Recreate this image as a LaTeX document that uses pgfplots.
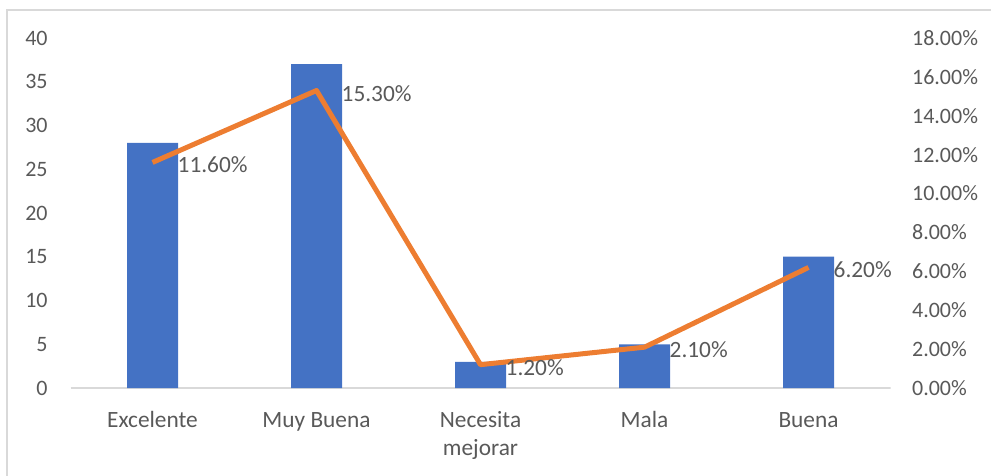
\documentclass[border=0pt]{standalone}
\usepackage{fontspec}
\setmainfont{Carlito}
\usepackage{pgfplots}
\pgfplotsset{compat=1.18}
\definecolor{barblue}{HTML}{4472C4}
\definecolor{lineorange}{HTML}{ED7D31}
\definecolor{txtgray}{HTML}{595959}
\definecolor{framegray}{HTML}{D9D9D9}

\begin{document}
\begin{tikzpicture}[x=0.75pt,y=0.75pt]
\useasboundingbox (0,0) rectangle (991,475);
\clip (0,0) rectangle (991,475);
% marco del grafico
\draw[framegray, line width=1.5pt] (7,-20) rectangle (1010,465);

\pgfplotsset{
  base/.style={
    at={(52.875pt,65.25pt)}, anchor=south west,
    scale only axis, width=615pt, height=262.5pt,
    xmin=-0.5, xmax=4.5,
    axis line style={draw=none},
    major tick length=0pt,
    tick label style={font=\fontsize{16.5}{21}\selectfont, text=txtgray},
  }
}

% barras (eje izquierdo)
\begin{axis}[
  base,
  ymin=0, ymax=40,
  ytick={0,5,10,15,20,25,30,35,40},
  yticklabels={0,5,10,15,20,25,30,35,40},
  yticklabel style={inner sep=0pt, xshift=-17pt},
  xtick={0,1,2,3,4},
  xticklabels={\strut Excelente,\strut Muy Buena,\strut Necesita\\mejorar,\strut Mala,\strut Buena},
  xticklabel style={align=center, inner sep=0pt, anchor=north, yshift=-14.5pt,
    font=\fontsize{17.5}{21}\selectfont},
]
\draw[framegray, line width=1.5pt] (axis cs:-0.5,0) -- (axis cs:4.5,0);
\addplot[ybar, bar width=38.25pt, bar shift=0pt, fill=barblue, draw=none]
  coordinates {(0,28) (1,37) (2,3) (3,5) (4,15)};
\end{axis}

% linea de porcentajes (eje derecho)
\begin{axis}[
  base,
  axis x line=none,
  axis y line*=right,
  ymin=0, ymax=18,
  ytick={0,2,4,6,8,10,12,14,16,18},
  yticklabels={0.00\%,2.00\%,4.00\%,6.00\%,8.00\%,10.00\%,12.00\%,14.00\%,16.00\%,18.00\%},
  yticklabel style={inner sep=0pt, xshift=16pt, anchor=west},
]
\addplot[lineorange, line width=3.75pt, line join=round, mark=none,
  point meta=explicit symbolic, nodes near coords,
  every node near coord/.style={anchor=west, inner sep=0pt, xshift=17pt, yshift=-2pt,
    font=\fontsize{17.5}{21}\selectfont, text=txtgray}]
  coordinates {(0,11.6) [11.60\%] (1,15.3) [15.30\%] (2,1.2) [1.20\%] (3,2.1) [2.10\%] (4,6.2) [6.20\%]};
\end{axis}
\end{tikzpicture}
\end{document}
